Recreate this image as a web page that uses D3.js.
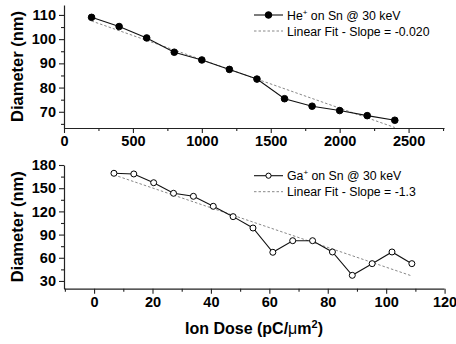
<!DOCTYPE html>
<html><head><meta charset="utf-8">
<script src="https://cdn.jsdelivr.net/npm/d3@7"></script>
<style>
body{margin:0;background:#fff;}
svg{display:block;font-family:"Liberation Sans",Arial,sans-serif;}
</style></head>
<body>
<script>
// Top panel data (He+)
const heDose = [200,400,600,800,1000,1200,1400,1600,1800,2000,2200,2400];
const heDiam = [109,105.2,100.5,94.6,91.4,87.5,83.5,75.4,72.3,70.5,68.4,66.5];
const heFit = [[200,107.5],[2400,63.5]];
const heXTicks = [0,500,1000,1500,2000,2500];
const heYTicks = [70,80,90,100,110];
// Bottom panel data (Ga+)
const gaDose = [6.8,13.6,20.4,27.2,34,40.8,47.6,54.4,61.2,68,74.8,81.6,88.4,95.2,102,108.8];
const gaDiam = [169.3,168.4,157.1,143.4,139.5,126.6,113.2,98.5,67.1,82.1,82.1,67.5,37.3,52.4,67.5,52.4];
const gaFit = [[6.8,167.2],[108.8,36.5]];
const gaXTicks = [0,20,40,60,80,100,120];
const gaYTicks = [30,60,90,120,150,180];

const W=456,H=344;
const svg=d3.select("body").append("svg").attr("width",W).attr("height",H);

function panel(cfg){
  const x=d3.scaleLinear().domain(cfg.xDom).range([64,444]);
  const y=d3.scaleLinear().domain(cfg.yDom).range([cfg.bottom,cfg.top]);
  const g=svg.append("g");
  // minor ticks
  const xa=g.append("g").attr("transform",`translate(0,${cfg.bottom})`)
    .call(d3.axisBottom(x).tickValues(cfg.xMinor).tickSize(3).tickFormat("").tickSizeOuter(0));
  xa.select(".domain").remove();
  const ya=g.append("g").attr("transform",`translate(64,0)`)
    .call(d3.axisLeft(y).tickValues(cfg.yMinor).tickSize(3).tickFormat("").tickSizeOuter(0));
  ya.select(".domain").remove();
  const xA=g.append("g").attr("transform",`translate(0,${cfg.bottom})`)
    .call(d3.axisBottom(x).tickValues(cfg.xTicks).tickFormat(d3.format("d")).tickSize(5).tickPadding(3).tickSizeOuter(0));
  const yA=g.append("g").attr("transform",`translate(64,0)`)
    .call(d3.axisLeft(y).tickValues(cfg.yTicks).tickFormat(d3.format("d")).tickSize(5).tickPadding(3).tickSizeOuter(0));
  g.selectAll(".tick line").attr("stroke","#222").attr("stroke-width",1.1);
  g.selectAll(".domain").attr("stroke","#222").attr("stroke-width",1.2);
  g.selectAll(".tick text").attr("font-family","Liberation Sans, Arial, sans-serif")
    .attr("font-size",14.5).attr("font-weight","bold").attr("fill","#000");
  // y title
  svg.append("text").attr("transform",`translate(23,${(cfg.top+cfg.bottom)/2}) rotate(-90)`)
    .attr("text-anchor","middle").attr("font-size",16.5).attr("font-weight","bold").text("Diameter (nm)");
  // fit
  g.append("line").attr("x1",x(cfg.fit[0][0])).attr("y1",y(cfg.fit[0][1]))
    .attr("x2",x(cfg.fit[1][0])).attr("y2",y(cfg.fit[1][1]))
    .attr("stroke","#888").attr("stroke-width",1).attr("stroke-dasharray","2.5,2");
  // line
  const pts=cfg.xs.map((d,i)=>[d,cfg.ys[i]]);
  g.append("path").datum(pts).attr("fill","none").attr("stroke","#111").attr("stroke-width",1.1)
    .attr("d",d3.line().x(d=>x(d[0])).y(d=>y(d[1])));
  g.selectAll("circle.pt").data(pts).join("circle").attr("class","pt")
    .attr("cx",d=>x(d[0])).attr("cy",d=>y(d[1])).attr("r",cfg.filled?3.3:3)
    .attr("fill",cfg.filled?"#000":"#fff").attr("stroke","#000").attr("stroke-width",1);
  // legend
  const lx1=254,lx2=283,ly=cfg.legY;
  g.append("line").attr("x1",lx1).attr("x2",lx2).attr("y1",ly).attr("y2",ly).attr("stroke","#111").attr("stroke-width",1.1);
  g.append("circle").attr("cx",(lx1+lx2)/2).attr("cy",ly).attr("r",cfg.filled?3.3:2.6)
    .attr("fill",cfg.filled?"#000":"#fff").attr("stroke","#000");
  const t=g.append("text").attr("x",287).attr("y",ly+4.5).attr("font-size",12.3);
  t.append("tspan").text(cfg.ion);
  t.append("tspan").attr("font-size",8).attr("dy",-5).text("+");
  t.append("tspan").attr("dy",5).text(" on Sn @ 30 keV");
  g.append("line").attr("x1",lx1).attr("x2",lx2).attr("y1",ly+16).attr("y2",ly+16)
    .attr("stroke","#888").attr("stroke-width",1).attr("stroke-dasharray","2.5,2");
  g.append("text").attr("x",287).attr("y",ly+20.5).attr("font-size",12.3).text(cfg.fitLabel);
}

panel({xDom:[0,2757],yDom:[63.3,114.1],top:5,bottom:128,
  xTicks:heXTicks,yTicks:heYTicks,
  xMinor:[250,750,1250,1750,2250,2750],yMinor:[65,75,85,95,105],
  xs:heDose,ys:heDiam,fit:heFit,filled:true,legY:15,ion:"He",fitLabel:"Linear Fit - Slope = -0.020"});
panel({xDom:[-10.3,119.8],yDom:[20,180],top:165,bottom:288.7,
  xTicks:gaXTicks,yTicks:gaYTicks,
  xMinor:[-10,10,30,50,70,90,110],yMinor:[45,75,105,135,165],
  xs:gaDose,ys:gaDiam,fit:gaFit,filled:false,legY:175.7,ion:"Ga",fitLabel:"Linear Fit - Slope = -1.3"});

const xt=svg.append("text").attr("x",254).attr("y",334).attr("text-anchor","middle")
  .attr("font-size",16).attr("font-weight","bold");
xt.append("tspan").text("Ion Dose (pC/");
xt.append("tspan").attr("font-weight","normal").text("\u03BC");
xt.append("tspan").text("m");
xt.append("tspan").attr("font-size",11).attr("dy",-6).text("2");
xt.append("tspan").attr("dy",6).text(")");
</script>
</body></html>
